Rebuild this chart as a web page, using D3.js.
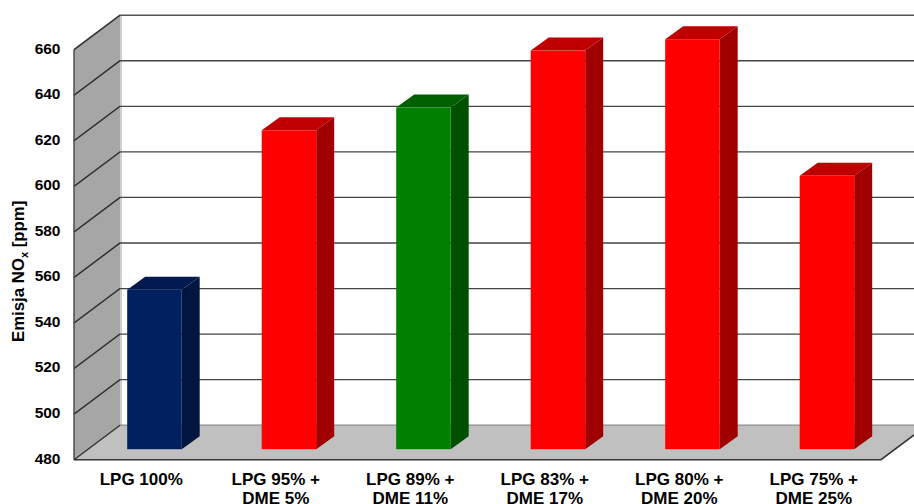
<!DOCTYPE html>
<html><head><meta charset="utf-8">
<script src="https://cdn.jsdelivr.net/npm/d3@7/dist/d3.min.js"></script>
<style>html,body{margin:0;padding:0;background:#fff;overflow:hidden}svg{display:block}
text{font-family:"Liberation Sans",Arial,sans-serif;font-weight:bold;fill:#000}</style>
</head><body><svg id="c" width="914" height="504"></svg>
<script>
const line1 = ["LPG 100%","LPG 95% +","LPG 89% +","LPG 83% +","LPG 80% +","LPG 75% +"];
const line2 = ["","DME 5%","DME 11%","DME 17%","DME 20%","DME 25%"];
const values = [550,620,630,655,660,600];
const kinds = ["navy","red","green","red","red","red"];
const ticks = [480,500,520,540,560,580,600,620,640,660];
const front = {navy:"#002060",red:"#ff0000",green:"#008000"};
const side = {navy:"#001540",red:"#a00000",green:"#005000"};
const top_ = {navy:"#001a50",red:"#c00000",green:"#006000"};

const svg = d3.select("#c");
const left = 74, right = 881, base = 459.7, DX = 46, DY = 34.5;
const y = d3.scaleLinear().domain([480,660]).range([base,49.7]);
const xBand = d3.scaleBand().domain(d3.range(6)).range([left,right]);
const barDX = 13.2, barDY = 10.5, dX = 18, dY = 13, barW = 54.5;
const pts = a => a.map(p=>p.join(",")).join(" ");

svg.append("rect").attr("x",left+DX).attr("y",y(660)-DY-1).attr("width",914-left-DX).attr("height",base-y(660)).attr("fill","#fff");
svg.append("polygon").attr("points",pts([[left,y(660)],[left+DX,y(660)-DY],[left+DX,base-DY],[left,base]])).attr("fill","#a6a6a6");
svg.append("line").attr("x1",left+DX+1).attr("x2",left+DX+1).attr("y1",y(660)-DY).attr("y2",base-DY).attr("stroke","#cfcfcf").attr("stroke-width",2);
svg.append("polygon").attr("points",pts([[left,base],[left+DX,base-DY],[right+DX,base-DY],[right,base]])).attr("fill","#c0c0c0");

svg.selectAll("path.grid").data(ticks).join("path").attr("class","grid").attr("fill","none")
  .attr("d",t=>`M${left},${y(t)}L${left+DX},${y(t)-DY}L${right+DX},${y(t)-DY}`)
  .attr("stroke",t=>t===480?"#8a8a8a":(t===660?"#555":"#444"))
  .attr("stroke-width",t=>t===660?1.6:1.3);
svg.selectAll("path.wallline").data(ticks).join("path").attr("class","wallline").attr("fill","none")
  .attr("d",t=>`M${left},${y(t)}L${left+DX},${y(t)-DY}`).attr("stroke","#333").attr("stroke-width",1.2);
svg.append("line").attr("x1",left).attr("x2",left).attr("y1",y(660)).attr("y2",base).attr("stroke","#444").attr("stroke-width",1.4);
svg.append("path").attr("fill","none").attr("stroke","#333").attr("stroke-width",1.6)
  .attr("d",`M${left},${base}L${right},${base}L${right+DX},${base-DY}`);

const g = svg.selectAll("g.bar").data(values).join("g").attr("class","bar");
g.each(function(v,i){
  const s = d3.select(this);
  const x0 = xBand(i)+xBand.bandwidth()/2+barDX-barW/2, x1 = x0+barW;
  const yt = y(v)-barDY, yb = base-barDY;
  s.append("polygon").attr("points",pts([[x1,yt],[x1+dX,yt-dY],[x1+dX,yb-dY],[x1,yb]])).attr("fill",side[kinds[i]]);
  s.append("polygon").attr("points",pts([[x0,yt],[x0+dX,yt-dY],[x1+dX,yt-dY],[x1,yt]])).attr("fill",top_[kinds[i]]);
  s.append("rect").attr("x",x0).attr("y",yt).attr("width",barW).attr("height",yb-yt).attr("fill",front[kinds[i]]);
});

svg.selectAll("text.tick").data(ticks).join("text").attr("class","tick")
  .attr("x",60.5).attr("y",t=>y(t)-1).attr("text-anchor","end").attr("font-size",15.5).attr("dominant-baseline","middle")
  .attr("dy","0.05em").text(t=>t);

svg.selectAll("text.l1").data(line1).join("text").attr("class","l1")
  .attr("x",(d,i)=>xBand(i)+xBand.bandwidth()/2).attr("y",484.5).attr("text-anchor","middle").attr("font-size",17).text(d=>d);
svg.selectAll("text.l2").data(line2).join("text").attr("class","l2")
  .attr("x",(d,i)=>xBand(i)+xBand.bandwidth()/2).attr("y",504).attr("text-anchor","middle").attr("font-size",17).text(d=>d);

const t = svg.append("text").attr("transform","translate(24,342) rotate(-90)").attr("font-size",16.8);
t.append("tspan").text("Emisja NO");
t.append("tspan").attr("font-size",11).attr("dy",4).text("x");
t.append("tspan").attr("dy",-4).text(" [ppm]");
</script></body></html>
